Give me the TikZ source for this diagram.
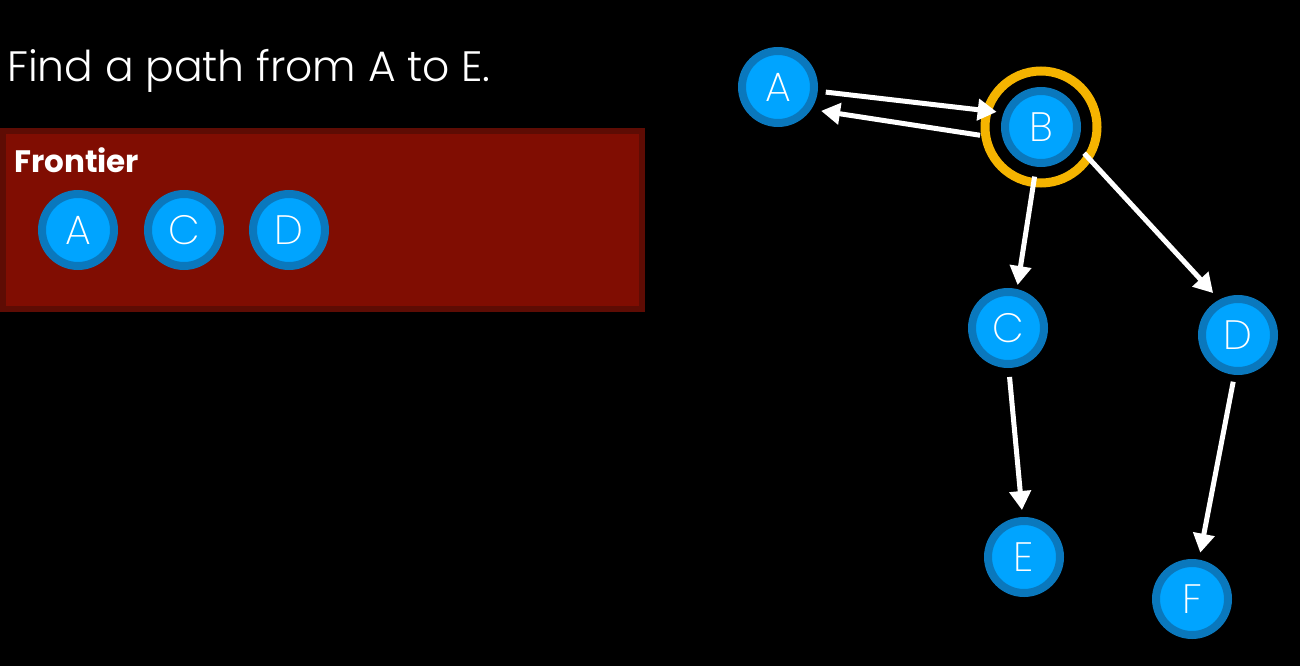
\documentclass[tikz,border=0pt]{standalone}
\usepackage{fontspec}
\setmainfont{Poppins}[UprightFont={* Light}, BoldFont={* Bold}]
\newfontfamily\nodefont{Poppins}[UprightFont={* ExtraLight}]
\usetikzlibrary{arrows.meta}
\definecolor{bluedark}{HTML}{0A78BD}
\definecolor{bluelight}{HTML}{00A4FF}
\definecolor{ringorange}{HTML}{F5B400}
\definecolor{boxfill}{HTML}{800D02}
\definecolor{boxedge}{HTML}{5E0C04}
\tikzset{
  gnode/.style={circle, fill=bluelight, draw=bluedark, line width=8pt, minimum size=72pt, inner sep=0pt,
    text=white, font=\nodefont\fontsize{41}{41}\selectfont},
  conn/.style={draw=white, line width=5pt, -{Triangle[length=19pt,width=21pt]}},
  ringst/.style={circle, draw=ringorange, line width=9pt, minimum size=112pt, inner sep=0pt},
}
\begin{document}
\begin{tikzpicture}[x=1pt,y=-1pt]
\fill[black] (0,0) rectangle (1300,666);
\useasboundingbox (0,0) rectangle (1300,666);
% title
\node[anchor=base west, text=white, inner sep=0pt, font=\fontsize{42.5}{42.5}\selectfont] (title) at (7,82) {Find a path from A to E.};
% frontier box
\node[draw=boxedge, fill=boxfill, line width=6pt, minimum width=639pt, minimum height=178pt, inner sep=0pt, outer sep=0pt, anchor=north west] (frontier) at (3,131) {};
\node[anchor=base west, text=white, inner sep=0pt, font=\bfseries\fontsize{31}{31}\selectfont] (ftitle) at (14,172) {Frontier};
\node[gnode] (fa) at (78,230) {A};
\node[gnode] (fc) at (184,230) {C};
\node[gnode] (fd) at (289,230) {D};
% graph
\node[gnode] (A) at (778,87) {A};
\node[gnode] (B) at (1041,127) {B};
\node[ringst] (ring) at (1041,127) {};
\node[gnode] (C) at (1008,328) {C};
\node[gnode] (D) at (1238,335) {D};
\node[gnode] (E) at (1024,557) {E};
\node[gnode] (F) at (1192,599) {F};
% connectors
\draw[conn, shorten <=8pt, shorten >=7pt] (A.-6) -- (B.159);
\draw[conn, shorten <=1pt, shorten >=10pt] (ring.188) -- (A.-34);
\draw[conn, shorten <=10pt, shorten >=4pt] (B.-97) -- (C.77);
\draw[conn, shorten <=11pt, shorten >=9pt] (B.-27) -- (D.118);
\draw[conn, shorten <=9pt, shorten >=7pt] (C.-89) -- (E.92);
\draw[conn, shorten <=7pt, shorten >=7pt] (D.-95) -- (F.80);
\end{tikzpicture}
\end{document}
